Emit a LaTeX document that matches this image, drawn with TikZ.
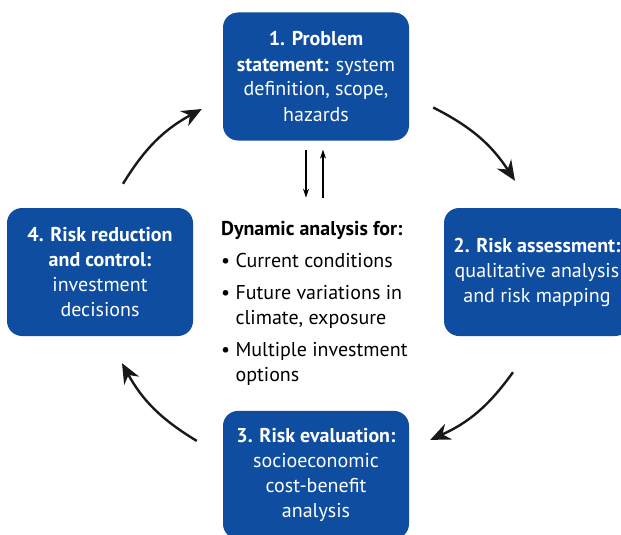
\documentclass[tikz,border=0pt]{standalone}
\usepackage{fontspec}
\setmainfont{PT Sans}
\usetikzlibrary{positioning,arrows.meta}
\definecolor{boxblue}{RGB}{14,77,160}
\tikzstyle{stagebox}=[rectangle, rounded corners=15pt, fill=boxblue, text=white,
                    minimum width=186pt, minimum height=128pt, inner sep=2pt,
                    align=center, font=\fontsize{20}{25}\selectfont]
\tikzstyle{cycarrow}=[-{Stealth[length=20pt,width=17pt]}, line width=2.4pt, black!90]
\tikzstyle{flowarrow}=[-{Stealth[length=9pt,width=6pt]}, line width=1.1pt]

\begin{document}
\begin{tikzpicture}[x=1pt, y=1pt, node distance=0pt]
\clip (0,0) rectangle (621,-535);

\node (prob) [stagebox] at (316,-76.5) {\textbf{1. Problem}\\
 \textbf{statement:} system\\ definition, scope,\\ hazards};
\node (eval) [stagebox, below=270pt of prob] {\textbf{3. Risk evaluation:}\\
 socioeconomic\\ cost-benefit\\ analysis};
\node (risk) [stagebox] at (537,-272) {\textbf{2. Risk assessment:}\\
 qualitative analysis\\ and risk mapping};
\node (reduc) [stagebox] at (100,-272) {\textbf{4. Risk reduction}\\
 \textbf{and control:}\\ investment\\ decisions};

\node (dyn) [anchor=north west, align=left, inner sep=0pt,
 font=\fontsize{20}{25}\selectfont] at (221,-221) {\textbf{Dynamic analysis for:}\\[7pt]
 \textbullet\ Current conditions\\[7pt]
 \textbullet\ Future variations in\\
 \phantom{\textbullet\ }climate, exposure\\[7pt]
 \textbullet\ Multiple investment\\
 \phantom{\textbullet\ }options};

% up and down between statement and analysis
 \draw[flowarrow] ([xshift=-10pt,yshift=-9pt]prob.south) -- ([xshift=-10pt,yshift=-57pt]prob.south);
 \draw[flowarrow] ([xshift=7pt,yshift=-57pt]prob.south) -- ([xshift=7pt,yshift=-9pt]prob.south);

% the cycle
 \draw[cycarrow] ([shift={(24pt,-31pt)}]prob.east) to[bend left=15] ([shift={(-22pt,27pt)}]risk.north);
 \draw[cycarrow] ([shift={(-24pt,-36pt)}]risk.south) to[bend left=15] ([shift={(21pt,35pt)}]eval.east);
 \draw[cycarrow] ([shift={(-26pt,34pt)}]eval.west) to[bend left=15] ([shift={(22pt,-27pt)}]reduc.south);
 \draw[cycarrow] ([shift={(23pt,24pt)}]reduc.north) to[bend left=15] ([shift={(-21pt,-32.5pt)}]prob.west);

\end{tikzpicture}
\end{document}
